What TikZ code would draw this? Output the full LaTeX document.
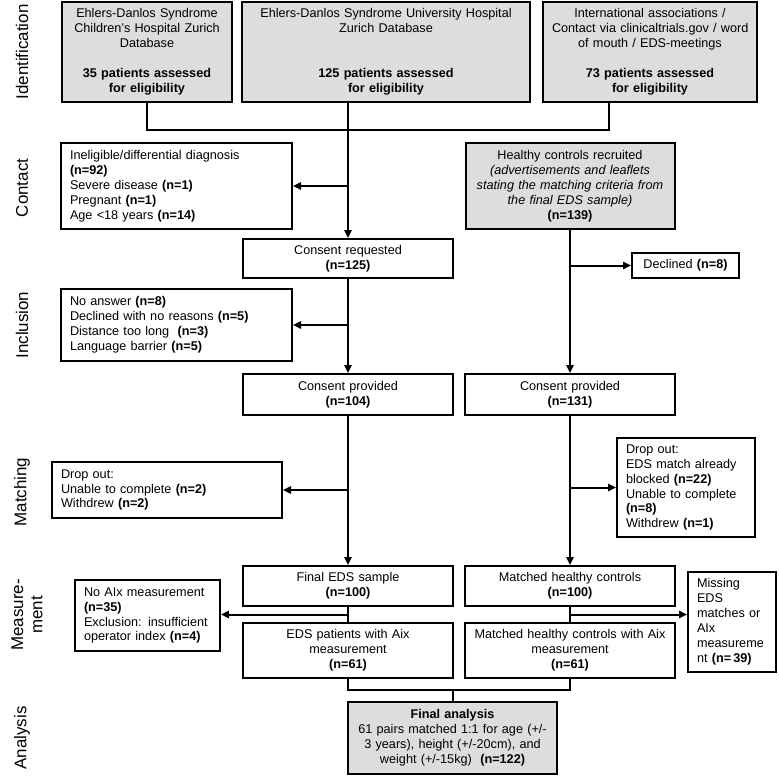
\documentclass[tikz,border=0pt]{standalone}
\usepackage{fontspec}
\setmainfont{Liberation Sans}
\usetikzlibrary{arrows.meta,calc}
\definecolor{boxgrey}{RGB}{221,221,221}
\begin{document}
\begin{tikzpicture}[x=0.75pt,y=-0.75pt,
  every node/.style={font=\fontsize{9.5}{11.2}\selectfont},
  bx/.style n args={2}{draw, line width=1.5pt, minimum width={#1*0.75pt}, minimum height={#2*0.75pt}, text width={(#1-18)*0.75pt}, inner xsep={9*0.75pt}, inner ysep=0pt},
  cbx/.style n args={2}{bx={#1}{#2}, align=center},
  lbx/.style n args={2}{bx={#1}{#2}, align=left},
  grey/.style={fill=boxgrey},
  conn/.style={line width=1.5pt},
  arr/.style={conn, -{Triangle[length=6pt,width=5.5pt]}},
  phase/.style={rotate=90, font=\fontsize{12.7}{14.5}\selectfont, align=center}
]
\useasboundingbox (0,0) rectangle (778,784);

% phase labels
\node[phase] (pid) at (22,52) {Identification};
\node[phase] (pco) at (22,188) {Contact};
\node[phase] (pin) at (22,325) {Inclusion};
\node[phase] (pma) at (22,492) {Matching};
\node[phase] (pme) at (27,615) {Measure-\\ment};
\node[phase] (pan) at (22,738) {Analysis};

% identification
\node[cbx={170}{100}, grey] (id1) at (147,52) {Ehlers-Danlos Syndrome\\Children's Hospital Zurich\\Database\\[11.2pt]\textbf{35 patients assessed}\\\textbf{for eligibility}};
\node[cbx={288}{100}, grey] (id2) at (386,52) {Ehlers-Danlos Syndrome University Hospital\\Zurich Database\\[22.4pt]\textbf{125 patients assessed}\\\textbf{for eligibility}};
\node[cbx={214}{100}, grey] (id3) at (650,52) {International associations /\\\mbox{Contact via clinicaltrials.gov / word}\\of mouth / EDS-meetings\\[11.2pt]\textbf{73 patients assessed}\\\textbf{for eligibility}};

% contact
\node[lbx={231}{86}] (inel) at (176.5,186) {Ineligible/differential diagnosis\\\textbf{(n=92)}\\Severe disease \textbf{(n=1)}\\Pregnant \textbf{(n=1)}\\Age <18 years \textbf{(n=14)}};
\node[cbx={209}{86}, grey] (hc) at (570,186) {Healthy controls recruited\\\textit{(advertisements and leaflets}\\\mbox{\textit{stating the matching criteria from}}\\\textit{the final EDS sample)}\\\textbf{(n=139)}};
\node[cbx={210}{39}] (creq) at (348,258.5) {Consent requested\\\textbf{(n=125)}};
\node[cbx={107}{25}] (decl) at (685.5,265.5) {Declined \textbf{(n=8)}};

% inclusion
\node[lbx={231}{72}] (incl) at (176.5,325) {No answer \textbf{(n=8)}\\Declined with no reasons \textbf{(n=5)}\\Distance too long\ \ \textbf{(n=3)}\\Language barrier \textbf{(n=5)}};
\node[cbx={210}{41}] (cp1) at (348,394.5) {Consent provided\\\textbf{(n=104)}};
\node[cbx={210}{41}] (cp2) at (570,394.5) {Consent provided\\\textbf{(n=131)}};

% matching
\node[lbx={230}{56}] (drop1) at (167,490) {Drop out:\\Unable to complete \textbf{(n=2)}\\Withdrew \textbf{(n=2)}};
\node[lbx={138}{99}] (drop2) at (686,487.5) {Drop out:\\\mbox{EDS match already}\\blocked \textbf{(n=22)}\\\mbox{Unable to complete}\\\textbf{(n=8)}\\Withdrew \textbf{(n=1)}};

% measurement
\node[cbx={210}{40}] (feds) at (348,586) {Final EDS sample\\\textbf{(n=100)}};
\node[cbx={210}{40}] (mhc) at (570,586) {Matched healthy controls\\\textbf{(n=100)}};
\node[lbx={145}{71}] (noaix) at (147.5,615.5) {No AIx measurement\\\textbf{(n=35)}\\Exclusion: insufficient\\operator index \textbf{(n=4)}};
\node[cbx={210}{55}] (edsaix) at (348,650.5) {EDS patients with Aix\\measurement\\\textbf{(n=61)}};
\node[cbx={210}{55}] (mhcaix) at (570,650.5) {\mbox{Matched healthy controls with Aix}\\measurement\\\textbf{(n=61)}};
\node[lbx={88}{100}] (miss) at (732,622) {Missing\\EDS\\matches or\\AIx\\\mbox{measureme}\\nt \textbf{(n=\,39)}};

% analysis
\node[cbx={209}{72}, grey] (final) at (452.5,738) {\textbf{Final analysis}\\\mbox{61 pairs matched 1:1 for age (+/-}\\3 years), height (+/-20cm), and\\weight (+/-15kg)\ \ \textbf{(n=122)}};

% connectors: identification
\coordinate (bus) at (348,130);
\coordinate (id3drop) at ($(id3.south west)!0.31!(id3.south east)$);
\draw[conn] (id1.south) |- (bus) -| (id3drop);
\draw[arr] (id2.south -| creq.north) -- (creq.north);
\draw[arr] (creq.north |- inel.east) -- (inel.east);

% left column
\draw[arr] (creq.south) -- (cp1.north);
\draw[arr] (creq.south |- incl.east) -- (incl.east);
\draw[arr] (cp1.south) -- (feds.north);
\draw[arr] (cp1.south |- drop1.east) -- (drop1.east);
\draw[conn] (feds.south) -- (edsaix.north);
\coordinate (m1) at ($(feds.south)!0.5!(edsaix.north)$);
\draw[arr] (m1) -- (m1 -| noaix.east);

% right column
\draw[arr] (hc.south) -- (cp2.north);
\draw[arr] (hc.south |- decl.west) -- (decl.west);
\draw[arr] (cp2.south) -- (mhc.north);
\draw[arr] (cp2.south |- drop2.west) -- (drop2.west);
\draw[conn] (mhc.south) -- (mhcaix.north);
\coordinate (m2) at ($(mhc.south)!0.5!(mhcaix.north)$);
\draw[arr] (m2) -- (m2 -| miss.west);

% analysis
\coordinate (j4) at ($(final.north)+(0,-11)$);
\draw[conn] (edsaix.south) |- (j4) -| (mhcaix.south);
\draw[conn] (j4) -- (final.north);
\end{tikzpicture}
\end{document}
